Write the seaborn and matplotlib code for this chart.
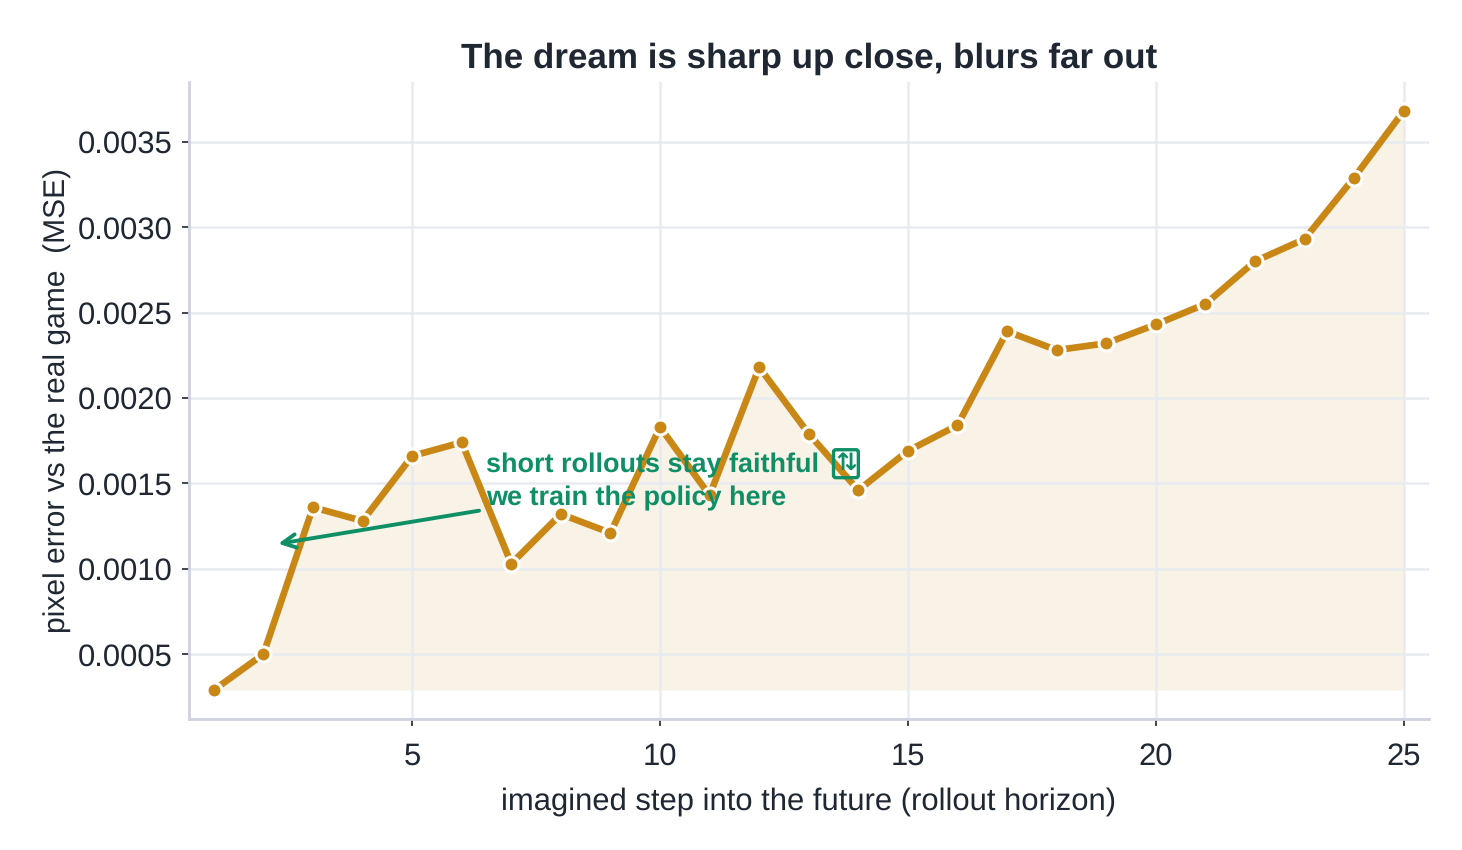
import matplotlib
matplotlib.use("Agg")
import matplotlib.pyplot as plt
import numpy as np
import pandas as pd
import seaborn as sns

horizon = list(range(1, 26))
mse = [0.00029, 0.00050, 0.00136, 0.00128, 0.00166, 0.00174, 0.00103, 0.00132,
       0.00121, 0.00183, 0.00143, 0.00218, 0.00179, 0.00146, 0.00169, 0.00184,
       0.00239, 0.00228, 0.00232, 0.00243, 0.00255, 0.00280, 0.00293, 0.00329,
       0.00368]
x_ticks = [5, 10, 15, 20, 25]
y_ticks = [0.0005, 0.0010, 0.0015, 0.0020, 0.0025, 0.0030, 0.0035]
y_tick_labels = ["0.0005", "0.0010", "0.0015", "0.0020", "0.0025", "0.0030", "0.0035"]
title = "The dream is sharp up close, blurs far out"
x_label = "imagined step into the future (rollout horizon)"
y_label = "pixel error vs the real game  (MSE)"
note = "short rollouts stay faithful\nwe train the policy here"
note_icon = "\u21c5"

INK = "#1f2733"
GOLD = "#c98716"
GREEN = "#0f8f66"
GRID = "#e8ebf2"
SPINE = "#cfd3e0"

sns.set_theme(style="white")
plt.rcParams["font.family"] = ["Liberation Sans", "DejaVu Sans"]
plt.rcParams["text.hinting"] = "no_hinting"
plt.rcParams["text.hinting_factor"] = 1

df = pd.DataFrame({"horizon": horizon, "mse": mse})

fig = plt.figure(figsize=(7.31, 4.25), dpi=200, facecolor="white")
ax = fig.add_axes([189 / 1462, 1 - 719 / 850, (1428.5 - 189) / 1462, (719 - 82) / 850])
ax.set_axisbelow("line")
ax.grid(True, color=GRID, linewidth=0.9)

ax.fill_between(df["horizon"], df["mse"], df["mse"].min(), color=GOLD, alpha=0.1,
                linewidth=0, zorder=1)
sns.lineplot(data=df, x="horizon", y="mse", ax=ax, color=GOLD, linewidth=2.4, marker="o",
             markersize=5.4, markeredgecolor="white", markeredgewidth=1.1, zorder=2)

ax.set_xlim(0.5, 25.5)
ax.margins(y=0.05)
ax.set_xticks(x_ticks)
ax.set_yticks(y_ticks)
ax.set_yticklabels(y_tick_labels)
ax.tick_params(axis="both", bottom=True, left=True, colors=INK, labelsize=11,
               length=2.5, width=0.6)
ax.tick_params(axis="x", pad=6)
ax.tick_params(axis="y", pad=3.5)

for side in ("top", "right"):
    ax.spines[side].set_visible(False)
for side in ("left", "bottom"):
    ax.spines[side].set_color(SPINE)
    ax.spines[side].set_linewidth(1.0)

ax.set_title(title, fontsize=12.6, fontweight="bold", color=INK, pad=5)
ax.set_xlabel(x_label, fontsize=11.2, color=INK, labelpad=5.5)
ax.set_ylabel(y_label, fontsize=10.8, color=INK, labelpad=2.4)

# Callout: two-line note, the boxed arrow icon and a pointer towards the early steps
ax.text(6.49, 0.00151, note, fontsize=9.9, fontweight="bold", color=GREEN,
        va="center", ha="left", linespacing=1.42, zorder=5)
ax.text(13.75, 0.001615, note_icon, fontsize=8.5, fontweight="bold", color=GREEN,
        family="DejaVu Sans", va="center", ha="center", zorder=5,
        bbox=dict(boxstyle="round,pad=0.1,rounding_size=0.1", fc="none", ec=GREEN, lw=1.2))
ax.annotate("", xy=(2.3, 0.001146), xytext=(6.35, 0.00134),
            arrowprops=dict(arrowstyle="->", color=GREEN, lw=1.4, shrinkA=0, shrinkB=0), zorder=5)

fig.savefig("out.png", dpi=200, facecolor="white")
